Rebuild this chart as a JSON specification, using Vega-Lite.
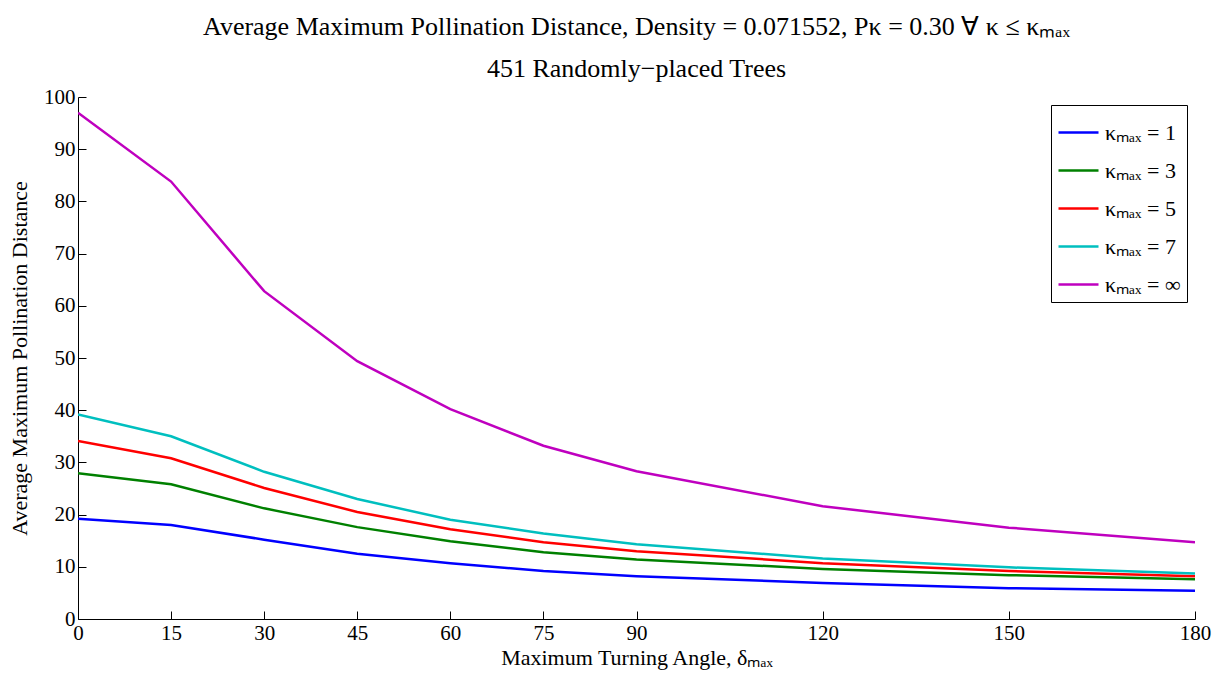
{
  "$schema": "https://vega.github.io/schema/vega-lite/v6.json",
  "width": 1117,
  "height": 522,
  "autosize": {"type": "none"},
  "padding": {"left": 78, "top": 97, "right": 17, "bottom": 56},
  "background": "white",
  "title": {
    "text": "Average Maximum Pollination Distance, Density = 0.071552, Pκ = 0.30 ∀ κ ≤ κₘₐₓ",
    "subtitle": "451 Randomly−placed Trees",
    "anchor": "middle",
    "frame": "group",
    "font": "Liberation Serif",
    "fontSize": 26,
    "fontWeight": "normal",
    "color": "black",
    "subtitleFont": "Liberation Serif",
    "subtitleFontSize": 26,
    "subtitleColor": "black",
    "subtitlePadding": 16,
    "offset": 4
  },
  "data": {
    "values": [
      {"angle": 0, "series": "κₘₐₓ = 1", "dist": 19.2},
      {"angle": 15, "series": "κₘₐₓ = 1", "dist": 18.0},
      {"angle": 30, "series": "κₘₐₓ = 1", "dist": 15.2},
      {"angle": 45, "series": "κₘₐₓ = 1", "dist": 12.5},
      {"angle": 60, "series": "κₘₐₓ = 1", "dist": 10.7},
      {"angle": 75, "series": "κₘₐₓ = 1", "dist": 9.2},
      {"angle": 90, "series": "κₘₐₓ = 1", "dist": 8.2},
      {"angle": 120, "series": "κₘₐₓ = 1", "dist": 6.9},
      {"angle": 150, "series": "κₘₐₓ = 1", "dist": 5.9},
      {"angle": 180, "series": "κₘₐₓ = 1", "dist": 5.4},
      {"angle": 0, "series": "κₘₐₓ = 3", "dist": 27.9},
      {"angle": 15, "series": "κₘₐₓ = 3", "dist": 25.8},
      {"angle": 30, "series": "κₘₐₓ = 3", "dist": 21.2},
      {"angle": 45, "series": "κₘₐₓ = 3", "dist": 17.6},
      {"angle": 60, "series": "κₘₐₓ = 3", "dist": 14.9},
      {"angle": 75, "series": "κₘₐₓ = 3", "dist": 12.8},
      {"angle": 90, "series": "κₘₐₓ = 3", "dist": 11.4},
      {"angle": 120, "series": "κₘₐₓ = 3", "dist": 9.6},
      {"angle": 150, "series": "κₘₐₓ = 3", "dist": 8.4},
      {"angle": 180, "series": "κₘₐₓ = 3", "dist": 7.6},
      {"angle": 0, "series": "κₘₐₓ = 5", "dist": 34.1},
      {"angle": 15, "series": "κₘₐₓ = 5", "dist": 30.8},
      {"angle": 30, "series": "κₘₐₓ = 5", "dist": 25.1},
      {"angle": 45, "series": "κₘₐₓ = 5", "dist": 20.5},
      {"angle": 60, "series": "κₘₐₓ = 5", "dist": 17.2},
      {"angle": 75, "series": "κₘₐₓ = 5", "dist": 14.7},
      {"angle": 90, "series": "κₘₐₓ = 5", "dist": 13.0},
      {"angle": 120, "series": "κₘₐₓ = 5", "dist": 10.7},
      {"angle": 150, "series": "κₘₐₓ = 5", "dist": 9.2},
      {"angle": 180, "series": "κₘₐₓ = 5", "dist": 8.2},
      {"angle": 0, "series": "κₘₐₓ = 7", "dist": 39.2},
      {"angle": 15, "series": "κₘₐₓ = 7", "dist": 35.0},
      {"angle": 30, "series": "κₘₐₓ = 7", "dist": 28.2},
      {"angle": 45, "series": "κₘₐₓ = 7", "dist": 23.0},
      {"angle": 60, "series": "κₘₐₓ = 7", "dist": 19.0},
      {"angle": 75, "series": "κₘₐₓ = 7", "dist": 16.4},
      {"angle": 90, "series": "κₘₐₓ = 7", "dist": 14.3},
      {"angle": 120, "series": "κₘₐₓ = 7", "dist": 11.6},
      {"angle": 150, "series": "κₘₐₓ = 7", "dist": 9.9},
      {"angle": 180, "series": "κₘₐₓ = 7", "dist": 8.7},
      {"angle": 0, "series": "κₘₐₓ = ∞", "dist": 97.0},
      {"angle": 15, "series": "κₘₐₓ = ∞", "dist": 83.8},
      {"angle": 30, "series": "κₘₐₓ = ∞", "dist": 62.8},
      {"angle": 45, "series": "κₘₐₓ = ∞", "dist": 49.4},
      {"angle": 60, "series": "κₘₐₓ = ∞", "dist": 40.2},
      {"angle": 75, "series": "κₘₐₓ = ∞", "dist": 33.2},
      {"angle": 90, "series": "κₘₐₓ = ∞", "dist": 28.3},
      {"angle": 120, "series": "κₘₐₓ = ∞", "dist": 21.6},
      {"angle": 150, "series": "κₘₐₓ = ∞", "dist": 17.5},
      {"angle": 180, "series": "κₘₐₓ = ∞", "dist": 14.7}
    ]
  },
  "mark": {"type": "line", "strokeWidth": 2.5, "clip": true},
  "encoding": {
    "x": {
      "field": "angle",
      "type": "quantitative",
      "scale": {"domain": [0, 180], "nice": false, "zero": false},
      "axis": {
        "title": "Maximum Turning Angle, δₘₐₓ",
        "values": [0, 15, 30, 45, 60, 75, 90, 120, 150, 180],
        "grid": false,
        "tickSize": -8,
        "labelPadding": 11,
        "titlePadding": 4,
        "domainColor": "black",
        "tickColor": "black",
        "labelColor": "black",
        "titleColor": "black",
        "labelFont": "Liberation Serif",
        "titleFont": "Liberation Serif",
        "labelFontSize": 21,
        "titleFontSize": 22,
        "titleFontWeight": "normal",
        "labelFlush": false,
        "labelOverlap": false
      }
    },
    "y": {
      "field": "dist",
      "type": "quantitative",
      "scale": {"domain": [0, 100], "nice": false},
      "axis": {
        "title": "Average Maximum Pollination Distance",
        "values": [0, 10, 20, 30, 40, 50, 60, 70, 80, 90, 100],
        "grid": false,
        "tickSize": -8,
        "labelPadding": 11,
        "titlePadding": 12,
        "domainColor": "black",
        "tickColor": "black",
        "labelColor": "black",
        "titleColor": "black",
        "labelFont": "Liberation Serif",
        "titleFont": "Liberation Serif",
        "labelFontSize": 21,
        "titleFontSize": 22,
        "titleFontWeight": "normal",
        "labelFlush": false,
        "labelOverlap": false
      }
    },
    "color": {
      "field": "series",
      "type": "nominal",
      "scale": {
        "domain": ["κₘₐₓ = 1", "κₘₐₓ = 3", "κₘₐₓ = 5", "κₘₐₓ = 7", "κₘₐₓ = ∞"],
        "range": ["#0000FF", "#008000", "#FF0000", "#00BFBF", "#BF00BF"]
      },
      "legend": {
        "title": null,
        "orient": "top-right",
        "offset": 8,
        "padding": 6,
        "strokeColor": "black",
        "fillColor": "white",
        "symbolType": "stroke",
        "symbolSize": 1600,
        "symbolStrokeWidth": 2.5,
        "labelFont": "Liberation Serif",
        "labelFontSize": 22,
        "labelColor": "black",
        "labelOffset": 5,
        "rowPadding": 5,
        "labelLimit": 300
      }
    }
  },
  "config": {
    "view": {"stroke": null},
    "axis": {"domainWidth": 1, "tickWidth": 1}
  }
}
